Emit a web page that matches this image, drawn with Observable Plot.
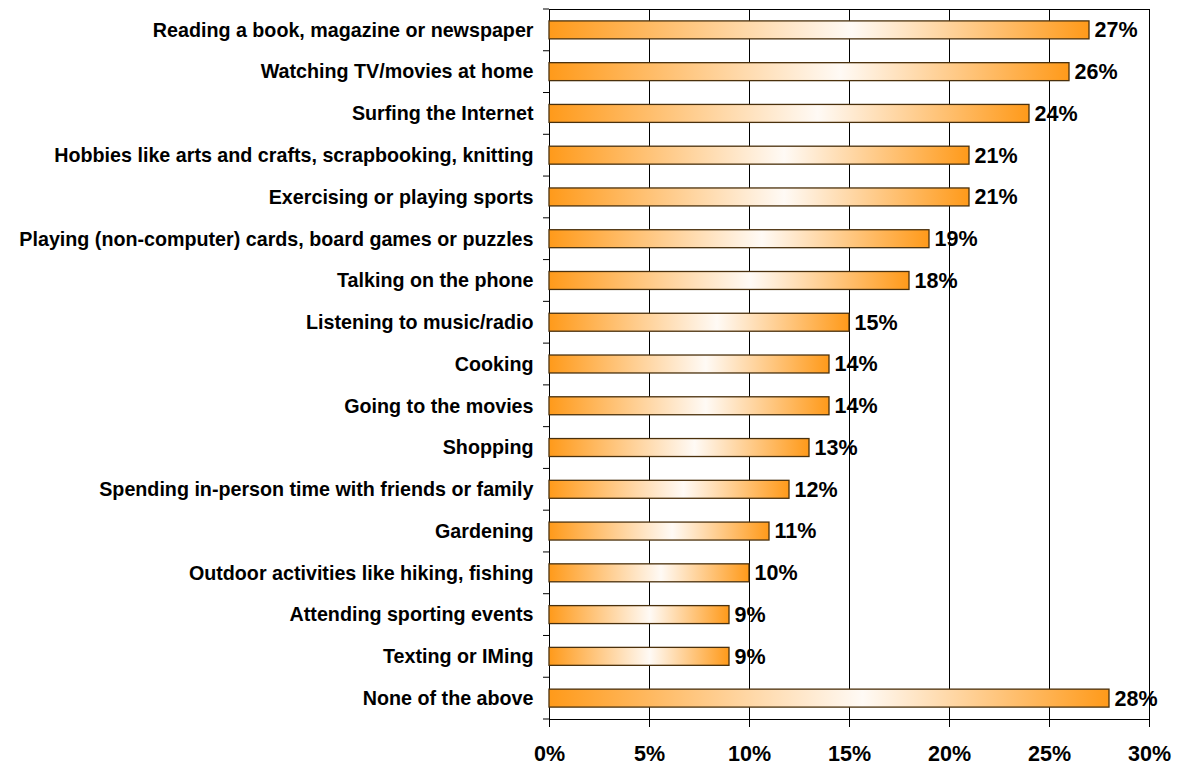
<!DOCTYPE html>
<html><head><meta charset="utf-8">
<script src="https://cdn.jsdelivr.net/npm/d3@7"></script>
<script src="https://cdn.jsdelivr.net/npm/@observablehq/plot@0.6"></script>
<style>
body{margin:0;background:#fff;}
#chart svg{display:block;}
</style>
</head><body><div id="chart"></div>
<script>
const categories = [
  "Reading a book, magazine or newspaper",
  "Watching TV/movies at home",
  "Surfing the Internet",
  "Hobbies like arts and crafts, scrapbooking, knitting",
  "Exercising or playing sports",
  "Playing (non-computer) cards, board games or puzzles",
  "Talking on the phone",
  "Listening to music/radio",
  "Cooking",
  "Going to the movies",
  "Shopping",
  "Spending in-person time with friends or family",
  "Gardening",
  "Outdoor activities like hiking, fishing",
  "Attending sporting events",
  "Texting or IMing",
  "None of the above"
];
const values = [27, 26, 24, 21, 21, 19, 18, 15, 14, 14, 13, 12, 11, 10, 9, 9, 28];
const xTicks = [0, 5, 10, 15, 20, 25, 30];

const data = categories.map((c, i) => ({cat: c, v: values[i]}));
const FONT = "'Liberation Sans', Arial, sans-serif";

const defsMark = () => {
  const ns = "http://www.w3.org/2000/svg";
  const defs = document.createElementNS(ns, "defs");
  defs.innerHTML = `<linearGradient id="barGrad" x1="0" y1="0" x2="1" y2="0">
    <stop offset="0" stop-color="#FF9A1A"/>
    <stop offset="0.56" stop-color="#FFFAF5"/>
    <stop offset="1" stop-color="#FF9A1A"/>
  </linearGradient>`;
  return defs;
};

const boundaryTicks = (index, scales, values, dims) => {
  const ns = "http://www.w3.org/2000/svg";
  const g = document.createElementNS(ns, "g");
  const y = scales.y;
  const step = y.bandwidth ? y.bandwidth() : 0;
  const x0 = dims.marginLeft;
  const ys = categories.map(c => y(c));
  ys.push(ys[ys.length - 1] + step);
  for (const yy of ys) {
    const l = document.createElementNS(ns, "line");
    l.setAttribute("x1", x0 - 6); l.setAttribute("x2", x0);
    l.setAttribute("y1", yy); l.setAttribute("y2", yy);
    l.setAttribute("stroke", "#000");
    g.appendChild(l);
  }
  return g;
};

const plot = Plot.plot({
  width: 1188,
  height: 767,
  marginLeft: 549,
  marginRight: 39,
  marginTop: 9,
  marginBottom: 48,
  style: {fontFamily: FONT, background: "#fff", overflow: "visible"},
  x: {domain: [0, 30], axis: null},
  y: {domain: categories, padding: 0, round: false, axis: null},
  marks: [
    defsMark,
    Plot.ruleX(xTicks, {stroke: "#000", strokeWidth: 1}),
    Plot.frame({stroke: "#000", strokeWidth: 1}),
    Plot.barX(data, {x: "v", y: "cat", fill: "url(#barGrad)", stroke: "#4a300c", strokeWidth: 1.3, insetTop: 11.9, insetBottom: 11.9}),
    Plot.text(data, {x: "v", y: "cat", text: d => d.v + "%", textAnchor: "start", dx: 5, fontSize: 21.5, fontWeight: "bold", fill: "#000"}),
    Plot.axisY({tickSize: 0, tickPadding: 16, fontSize: 19.7, fontWeight: "bold", label: null, color: "#000"}),
    boundaryTicks,
    Plot.axisX({ticks: xTicks, tickSize: 8, tickPadding: 18, fontSize: 21.5, fontWeight: "bold", tickFormat: d => d + "%", label: null, color: "#000"})
  ]
});
document.getElementById("chart").appendChild(plot);
</script>
</body></html>
